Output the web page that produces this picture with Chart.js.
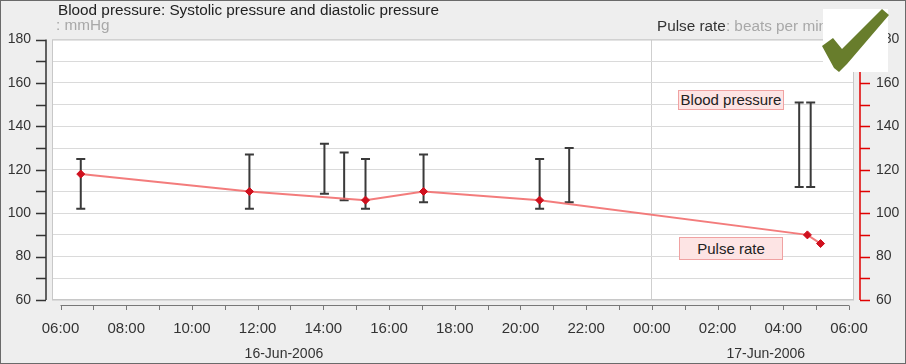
<!DOCTYPE html>
<html>
<head>
<meta charset="utf-8">
<script src="https://cdn.jsdelivr.net/npm/chart.js@4/dist/chart.umd.min.js"></script>
<style>
    body { margin: 0; background: #fff; }
    #wrap {
        position: relative;
        width: 906px;
        height: 364px;
        background: #eeeeee;
        font-family: 'Liberation Sans', Arial, sans-serif;
    }
    #wrap canvas { position: absolute; left: 0; top: 0; }
    #frame {
        position: absolute; left: 0; top: 0; width: 904px; height: 362px;
        border: 1px solid #6a6a6a; pointer-events: none;
    }
    .title { position: absolute; font-size: 15.3px; white-space: nowrap; }
    .tag {
        position: absolute; font-size: 15px; color: #222; text-align: center;
        background: #fde4e4; border: 1px solid #f0a2a2; box-sizing: border-box;
    }
    #check { position: absolute; left: 0; top: 0; }
</style>
</head>
<body>
<div id="wrap">
    <canvas id="bpChart" width="906" height="364"></canvas>
    <div class="title" style="left:58px; top:1px; color:#222;">Blood pressure: Systolic pressure and diastolic pressure</div>
    <div class="title" style="left:56px; top:16px; color:#a8a8a8;">: mmHg</div>
    <div class="title" style="left:657px; top:17px; color:#a8a8a8;"><span style="color:#333;">Pulse rate</span>: beats per minute</div>
    <div class="tag" style="left:678px; top:90px; width:106px; height:20px; line-height:18px;">Blood pressure</div>
    <div class="tag" style="left:679px; top:237px; width:104px; height:23px; line-height:21px;">Pulse rate</div>
    <svg id="check" width="906" height="364">
        <rect x="823" y="9" width="65" height="63" fill="#ffffff"/>
        <polygon points="822,46 833,38 842,49 882,9 889,15 847,64 839,72 834,68" fill="#687d2c"/>
    </svg>
    <div id="frame"></div>
</div>
<script>
    // readings, day of June + time
    const bpTimes = ['16 06:37', '16 11:45', '16 14:02', '16 14:38', '16 15:17',
                     '16 17:03', '16 20:35', '16 21:29', '17 04:29', '17 04:50'];
    const systolic = [125, 127, 132, 128, 125, 127, 125, 130, 151, 151];
    const diastolic = [102, 102, 109, 106, 102, 105, 102, 105, 112, 112];

    const pulseTimes = ['16 06:37', '16 11:45', '16 15:17', '16 17:03', '16 20:35', '17 04:44', '17 05:08'];
    const pulseRate = [118, 110, 106, 110, 106, 90, 86];

    const dateTickTimes = ['16 12:48', '17 03:28'];
    const dateTickLabels = ['16-Jun-2006', '17-Jun-2006'];

    // hours since 16-Jun 06:00
    function toHours(s) {
        const parts = s.split(' ');
        const hm = parts[1].split(':');
        return (parseInt(parts[0], 10) - 16) * 24 + parseInt(hm[0], 10) + parseInt(hm[1], 10) / 60 - 6;
    }

    function hourLabel(v) {
        const h = ((Math.round(v) + 6) % 24 + 24) % 24;
        return (h < 10 ? '0' : '') + h + ':00';
    }

    const xMin = -0.259;
    const xMax = 24.152;

    const pulsePoints = pulseTimes.map(function(t, i) {
        return { x: toHours(t), y: pulseRate[i] };
    });

    // plot background + hand drawn axis lines (they sit off the plot area)
    const framePlugin = {
        id: 'framePlugin',
        beforeDraw: function(chart) {
            const ctx = chart.ctx;
            const a = chart.chartArea;
            ctx.save();
            ctx.fillStyle = '#ffffff';
            ctx.fillRect(a.left, a.top, a.right - a.left, a.bottom - a.top);
            ctx.restore();
        },
        afterDraw: function(chart) {
            const ctx = chart.ctx;
            const a = chart.chartArea;
            const x = chart.scales.x;
            const y = chart.scales.y;
            const y2 = chart.scales.y2;

            ctx.save();
            ctx.lineWidth = 1;
            ctx.strokeStyle = '#c8c8c8';
            ctx.strokeRect(a.left + 0.5, a.top + 0.5, a.right - a.left - 1, a.bottom - a.top - 1);

            // left axis
            ctx.strokeStyle = '#333';
            ctx.lineWidth = 1.5;
            ctx.beginPath();
            ctx.moveTo(46, y.getPixelForValue(180));
            ctx.lineTo(46, y.getPixelForValue(60));
            for (let v = 60; v <= 180; v += 10) {
                const py = Math.round(y.getPixelForValue(v)) + 0.5;
                ctx.moveTo(36, py);
                ctx.lineTo(46, py);
            }
            ctx.stroke();

            // right axis (pulse)
            ctx.strokeStyle = '#e00000';
            ctx.beginPath();
            ctx.moveTo(860, y2.getPixelForValue(180));
            ctx.lineTo(860, y2.getPixelForValue(60));
            for (let v = 60; v <= 180; v += 10) {
                const py = Math.round(y2.getPixelForValue(v)) + 0.5;
                ctx.moveTo(860, py);
                ctx.lineTo(870, py);
            }
            ctx.stroke();

            // time axis
            ctx.strokeStyle = '#777';
            ctx.lineWidth = 1;
            ctx.beginPath();
            ctx.moveTo(x.getPixelForValue(0), 305.5);
            ctx.lineTo(x.getPixelForValue(24), 305.5);
            for (let h = 0; h <= 24; h++) {
                const px = Math.round(x.getPixelForValue(h)) + 0.5;
                ctx.moveTo(px, 305.5);
                ctx.lineTo(px, 310);
            }
            ctx.stroke();
            ctx.restore();
        }
    };

    // systolic / diastolic ranges as error bars
    const rangePlugin = {
        id: 'rangePlugin',
        beforeDatasetsDraw: function(chart) {
            const ctx = chart.ctx;
            const x = chart.scales.x;
            const y = chart.scales.y;
            ctx.save();
            ctx.strokeStyle = '#3a3a3a';
            ctx.lineWidth = 2;
            bpTimes.forEach(function(t, i) {
                const px = x.getPixelForValue(toHours(t));
                const top = y.getPixelForValue(systolic[i]);
                const bottom = y.getPixelForValue(diastolic[i]);
                ctx.beginPath();
                ctx.moveTo(px, top);
                ctx.lineTo(px, bottom);
                ctx.moveTo(px - 4.5, top);
                ctx.lineTo(px + 4.5, top);
                ctx.moveTo(px - 4.5, bottom);
                ctx.lineTo(px + 4.5, bottom);
                ctx.stroke();
            });
            ctx.restore();
        }
    };

    const tickFont = { family: "'Liberation Sans', Arial, sans-serif", size: 14 };

    new Chart(document.getElementById('bpChart'), {
        type: 'line',
        data: {
            datasets: [{
                label: 'Pulse rate',
                data: pulsePoints,
                yAxisID: 'y2',
                borderColor: 'rgba(242, 110, 110, 0.9)',
                borderWidth: 2,
                pointStyle: 'rectRot',
                pointRadius: 4,
                pointBackgroundColor: '#d0101e',
                pointBorderColor: '#d0101e',
                pointBorderWidth: 1,
                tension: 0
            }]
        },
        options: {
            responsive: false,
            animation: false,
            devicePixelRatio: 1,
            layout: { padding: { top: 39.5, left: 0, right: 0, bottom: 0 } },
            plugins: {
                legend: { display: false },
                tooltip: { enabled: false }
            },
            scales: {
                x: {
                    type: 'linear',
                    position: 'bottom',
                    min: xMin,
                    max: xMax,
                    afterFit: function(scale) { scale.height = 37; },
                    border: { display: false },
                    grid: {
                        drawTicks: false,
                        color: function(c) {
                            return c.tick && c.tick.value === 18 ? '#cfcfcf' : 'rgba(0,0,0,0)';
                        }
                    },
                    ticks: {
                        stepSize: 2,
                        includeBounds: false,
                        autoSkip: false,
                        maxRotation: 0,
                        padding: 20,
                        color: '#333',
                        font: { family: tickFont.family, size: 15 },
                        callback: hourLabel
                    }
                },
                xDate: {
                    type: 'linear',
                    position: 'bottom',
                    min: xMin,
                    max: xMax,
                    afterFit: function(scale) { scale.height = 27; },
                    afterBuildTicks: function(scale) {
                        scale.ticks = dateTickTimes.map(function(t) { return { value: toHours(t) }; });
                    },
                    border: { display: false },
                    grid: { display: false },
                    ticks: {
                        autoSkip: false,
                        maxRotation: 0,
                        padding: 1,
                        color: '#333',
                        font: tickFont,
                        callback: function(v, i) { return dateTickLabels[i]; }
                    }
                },
                y: {
                    position: 'left',
                    min: 60,
                    max: 180,
                    afterFit: function(scale) { scale.width = 52; },
                    border: { display: false },
                    grid: { drawTicks: false, color: '#dadada' },
                    ticks: {
                        stepSize: 10,
                        padding: 21,
                        color: '#333',
                        font: tickFont,
                        callback: function(v) { return v % 20 === 0 ? v : ''; }
                    }
                },
                y2: {
                    position: 'right',
                    min: 60,
                    max: 180,
                    afterFit: function(scale) { scale.width = 52; },
                    border: { display: false },
                    grid: { drawTicks: false, drawOnChartArea: false },
                    ticks: {
                        stepSize: 20,
                        padding: 22,
                        color: '#333',
                        font: tickFont
                    }
                }
            }
        },
        plugins: [framePlugin, rangePlugin]
    });
</script>
</body>
</html>
